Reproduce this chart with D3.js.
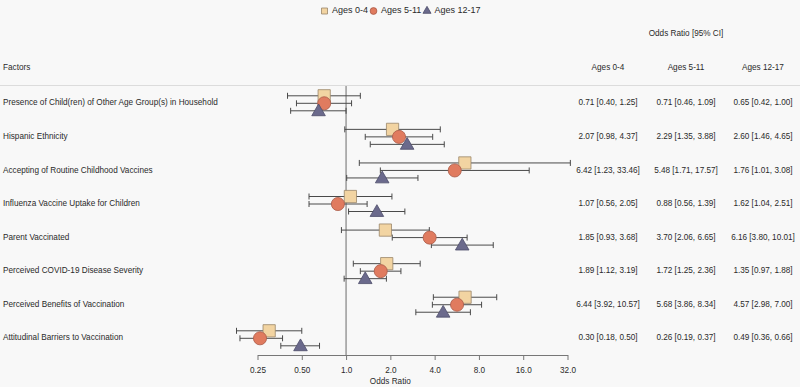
<!DOCTYPE html>
<html>
<head>
<meta charset="utf-8">
<script src="https://cdnjs.cloudflare.com/ajax/libs/d3/7.8.5/d3.min.js"></script>
<style>
  body { margin: 0; background: #f8f8f8; }
  text { font-family: "Liberation Sans", Arial, sans-serif; fill: #2a2a2a; }
</style>
</head>
<body>
<div id="canvas"></div>
<script>
"use strict"

/* Data */
let factors = [
    "Presence of Child(ren) of Other Age Group(s) in Household",
    "Hispanic Ethnicity",
    "Accepting of Routine Childhood Vaccines",
    "Influenza Vaccine Uptake for Children",
    "Parent Vaccinated",
    "Perceived COVID-19 Disease Severity",
    "Perceived Benefits of Vaccination",
    "Attitudinal Barriers to Vaccination"
];
let groups = ["Ages 0-4", "Ages 5-11", "Ages 12-17"];

let or04 = [0.71, 2.07, 6.42, 1.07, 1.85, 1.89, 6.44, 0.30];
let lo04 = [0.40, 0.98, 1.23, 0.56, 0.93, 1.12, 3.92, 0.18];
let hi04 = [1.25, 4.37, 33.46, 2.05, 3.68, 3.19, 10.57, 0.50];

let or511 = [0.71, 2.29, 5.48, 0.88, 3.70, 1.72, 5.68, 0.26];
let lo511 = [0.46, 1.35, 1.71, 0.56, 2.06, 1.25, 3.86, 0.19];
let hi511 = [1.09, 3.88, 17.57, 1.39, 6.65, 2.36, 8.34, 0.37];

let or1217 = [0.65, 2.60, 1.76, 1.62, 6.16, 1.35, 4.57, 0.49];
let lo1217 = [0.42, 1.46, 1.01, 1.04, 3.80, 0.97, 2.98, 0.36];
let hi1217 = [1.00, 4.65, 3.08, 2.51, 10.01, 1.88, 7.00, 0.66];

let tickValues = [0.25, 0.5, 1, 2, 4, 8, 16, 32];
let tickLabels = ["0.25", "0.50", "1.0", "2.0", "4.0", "8.0", "16.0", "32.0"];

/* drawing size */
let svgWidth = 800;
let svgHeight = 387;
let fontSize = 8.2;

let svg = d3.select("#canvas")
    .append("svg")
    .attr("width", svgWidth)
    .attr("height", svgHeight);

svg.append("rect")
    .attr("width", svgWidth)
    .attr("height", svgHeight)
    .attr("fill", "#f8f8f8");

let xScale = d3.scaleLog()
    .base(2)
    .domain([0.25, 32])
    .range([257.5, 567.5]);

let yScale = d3.scalePoint()
    .domain(factors)
    .range([103.3, 338.3]);

let axisY = 355;

/* one small table per age group */
let series = [
    { name: groups[0], or: or04, lo: lo04, hi: hi04, shape: "square", fill: "#f2d4a2", stroke: "#9a876a", dy: -7.5 },
    { name: groups[1], or: or511, lo: lo511, hi: hi511, shape: "circle", fill: "#e07b5f", stroke: "#a95a47", dy: 0 },
    { name: groups[2], or: or1217, lo: lo1217, hi: hi1217, shape: "triangle", fill: "#6b6a8c", stroke: "#4d4c6a", dy: 7.5 }
];

let symbolOf = {
    square: d3.symbol().type(d3.symbolSquare).size(150),
    circle: d3.symbol().type(d3.symbolCircle).size(135),
    triangle: d3.symbol().type(d3.symbolTriangle).size(80)
};

/* header */
svg.append("line")
    .attr("x1", 0).attr("x2", svgWidth)
    .attr("y1", 85.5).attr("y2", 85.5)
    .attr("stroke", "#dcdcdc");

svg.append("text")
    .attr("x", 3).attr("y", 68)
    .attr("dominant-baseline", "middle")
    .style("font-size", fontSize + "px")
    .text("Factors");

svg.append("text")
    .attr("x", 686).attr("y", 34)
    .attr("text-anchor", "middle")
    .attr("dominant-baseline", "middle")
    .style("font-size", fontSize + "px")
    .text("Odds Ratio [95% CI]");

let colX = [608, 686, 763];
for (let i = 0; i < groups.length; i++) {
    svg.append("text")
        .attr("x", colX[i]).attr("y", 68)
        .attr("text-anchor", "middle")
        .attr("dominant-baseline", "middle")
        .style("font-size", fontSize + "px")
        .text(groups[i]);
}

/* factor labels */
svg.selectAll(".factor")
    .data(factors)
    .join("text")
    .attr("class", "factor")
    .attr("x", 3)
    .attr("y", d => yScale(d))
    .attr("dominant-baseline", "middle")
    .style("font-size", fontSize + "px")
    .text(d => d);

/* odds ratio text columns */
series.forEach(function (s, k) {
    svg.selectAll(".val" + k)
        .data(factors)
        .join("text")
        .attr("class", "val" + k)
        .attr("x", colX[k])
        .attr("y", d => yScale(d))
        .attr("text-anchor", "middle")
        .attr("dominant-baseline", "middle")
        .style("font-size", fontSize + "px")
        .text((d, i) => s.or[i].toFixed(2) + " [" + s.lo[i].toFixed(2) + ", " + s.hi[i].toFixed(2) + "]");
});

/* reference line at OR = 1 */
svg.append("line")
    .attr("x1", xScale(1)).attr("x2", xScale(1))
    .attr("y1", 86).attr("y2", axisY)
    .attr("stroke", "#9a9a9a")
    .attr("stroke-width", 1.5);

/* x axis */
let xAxis = d3.axisBottom(xScale)
    .tickValues(tickValues)
    .tickFormat((d, i) => tickLabels[i])
    .tickSize(5)
    .tickSizeOuter(0);

let axisG = svg.append("g")
    .attr("transform", "translate(0," + axisY + ")")
    .call(xAxis);
axisG.select(".domain").attr("stroke", "#777");
axisG.selectAll(".tick line").attr("stroke", "#777");
axisG.selectAll(".tick text")
    .attr("y", 12)
    .style("font-size", fontSize + "px")
    .style("font-family", "'Liberation Sans', Arial, sans-serif")
    .attr("fill", "#2a2a2a");

svg.append("text")
    .attr("x", xScale(2))
    .attr("y", 382)
    .attr("text-anchor", "middle")
    .attr("dominant-baseline", "middle")
    .style("font-size", fontSize + "px")
    .text("Odds Ratio");

/* error bars */
series.forEach(function (s, k) {
    let g = svg.append("g");
    factors.forEach(function (f, i) {
        let y = yScale(f) + s.dy;
        g.append("line")
            .attr("x1", xScale(s.lo[i])).attr("x2", xScale(s.hi[i]))
            .attr("y1", y).attr("y2", y)
            .attr("stroke", "#4a4a4a").attr("stroke-width", 1);
        [s.lo[i], s.hi[i]].forEach(function (v) {
            g.append("line")
                .attr("x1", xScale(v)).attr("x2", xScale(v))
                .attr("y1", y - 3).attr("y2", y + 3)
                .attr("stroke", "#4a4a4a").attr("stroke-width", 1);
        });
    });
});

/* point estimates */
series.forEach(function (s, k) {
    svg.selectAll(".pt" + k)
        .data(factors)
        .join("path")
        .attr("class", "pt" + k)
        .attr("d", symbolOf[s.shape])
        .attr("transform", (d, i) => "translate(" + xScale(s.or[i]) + "," + (yScale(d) + s.dy + (s.shape == "triangle" ? 1 : 0)) + ")")
        .attr("fill", s.fill)
        .attr("stroke", s.stroke)
        .attr("stroke-width", 0.8);
});

/* legend */
let legendSym = {
    square: d3.symbol().type(d3.symbolSquare).size(36),
    circle: d3.symbol().type(d3.symbolCircle).size(36),
    triangle: d3.symbol().type(d3.symbolTriangle).size(28)
};
let legendX = [324.5, 373.5, 427];
series.forEach(function (s, k) {
    svg.append("path")
        .attr("d", legendSym[s.shape])
        .attr("transform", "translate(" + legendX[k] + ",11)")
        .attr("fill", s.fill)
        .attr("stroke", s.stroke)
        .attr("stroke-width", 0.8);
    svg.append("text")
        .attr("x", legendX[k] + 7.5)
        .attr("y", 11)
        .attr("dominant-baseline", "middle")
        .style("font-size", "9px")
        .text(s.name);
});
</script>
</body>
</html>
